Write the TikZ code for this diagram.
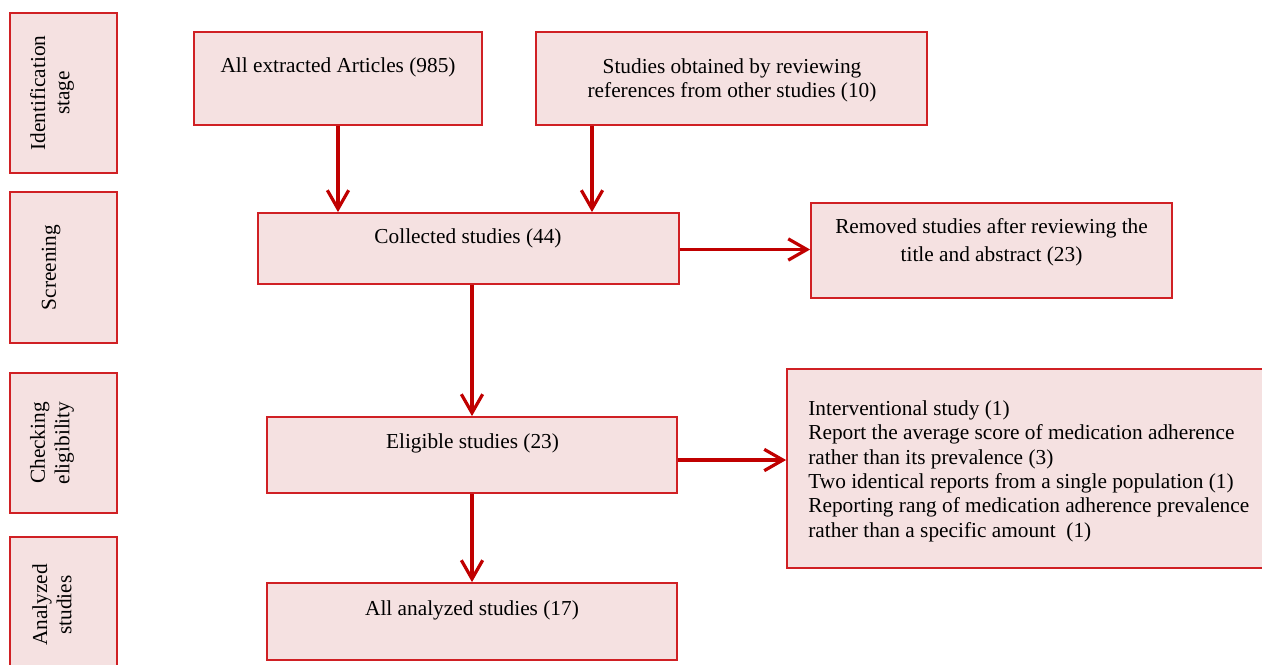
\documentclass[tikz,border=0pt]{standalone}
\usepackage{fontspec}
\setmainfont{Liberation Serif}
\usetikzlibrary{arrows.meta}

\newcommand{\pxu}{0.563pt}
\definecolor{boxfill}{RGB}{245,225,225}
\definecolor{boxline}{RGB}{208,32,36}
\definecolor{arrowred}{RGB}{192,0,0}

\tikzset{
  flowbox/.style={draw=boxline, fill=boxfill, line width=1pt, inner sep=0pt,
    minimum width=#1},
  flowtext/.style={inner sep=0pt, align=center, anchor=north,
    font=\fontsize{12}{13.7}\selectfont},
  stagetext/.style={flowtext, anchor=center, rotate=90},
  flowarrow/.style={draw=arrowred, line width=1.8pt,
    -{Straight Barb[length=10.5pt,width=12pt,line width=1.8pt]}}
}

\begin{document}
\begin{tikzpicture}[x=\pxu, y=-\pxu]
  \useasboundingbox (0,0) rectangle (1262,664);

  % Stages
  \node[flowbox=107*\pxu, minimum height=160*\pxu] (sIdent) at (63.5,93) {};
  \node[flowbox=107*\pxu, minimum height=151*\pxu] (sScreen) at (63.5,267.5) {};
  \node[flowbox=107*\pxu, minimum height=140*\pxu] (sCheck) at (63.5,443) {};
  \node[flowbox=107*\pxu, minimum height=135*\pxu] (sAnalyz) at (63.5,604.5) {};
  \node[stagetext] (tIdent) at (52,93) {Identification\\stage};
  \node[stagetext] (tScreen) at (51,267.5) {Screening};
  \node[stagetext] (tCheck) at (52,443) {Checking\\eligibility};
  \node[stagetext] (tAnalyz) at (52,605) {Analyzed\\studies};

  % Boxes
  \node[flowbox=288*\pxu, minimum height=93*\pxu] (ext) at (338,78.5) {};
  \node[flowbox=391*\pxu, minimum height=93*\pxu] (stud) at (731.5,78.5) {};
  \node[flowbox=421*\pxu, minimum height=71*\pxu] (col) at (468.5,248.5) {};
  \node[flowbox=361*\pxu, minimum height=95*\pxu] (rem) at (991.5,250.5) {};
  \node[flowbox=410*\pxu, minimum height=76*\pxu] (eli) at (472,455) {};
  \node[flowbox=488*\pxu, minimum height=199*\pxu] (exc) at (1031,468.5) {};
  \node[flowbox=410*\pxu, minimum height=77*\pxu] (ana) at (472,621.5) {};

  % Texts
  \node[flowtext] (extT) at (338,57.5) {All extracted Articles (985)};
  \node[flowtext] (studT) at (732,58) {Studies obtained by reviewing\\references from other studies (10)};
  \node[flowtext] (colT) at (468,228.5) {Collected studies (44)};
  \node[flowtext] (remT) at (991.5,218.5) {Removed studies after reviewing the\\[2pt]title and abstract (23)};
  \node[flowtext] (eliT) at (472.5,433.5) {Eligible studies (23)};
  \node[flowtext] (anaT) at (472,600.5) {All analyzed studies (17)};
  \node[flowtext, align=left, anchor=north west] (excT) at (808,400.5)
    {Interventional study (1)\\
     Report the average score of medication adherence\\
     rather than its prevalence (3)\\
     Two identical reports from a single population (1)\\
     Reporting rang of medication adherence prevalence\\
     rather than a specific amount\ \ (1)};

  % Arrows
  \coordinate (refx) at (592,0);
  \draw[flowarrow] (ext.south) -- (ext.south |- col.north);
  \draw[flowarrow] (stud.south -| refx) -- (col.north -| refx);
  \draw[flowarrow] ([yshift=-1*\pxu]col.east) -- ([yshift=-1*\pxu]col.east -| rem.west);
  \draw[flowarrow] (col.south -| eli) -- (eli.north);
  \draw[flowarrow] ([yshift=-5*\pxu]eli.east) -- ([yshift=-5*\pxu]eli.east -| exc.west);
  \draw[flowarrow] (eli.south) -- (ana.north);
\end{tikzpicture}
\end{document}
